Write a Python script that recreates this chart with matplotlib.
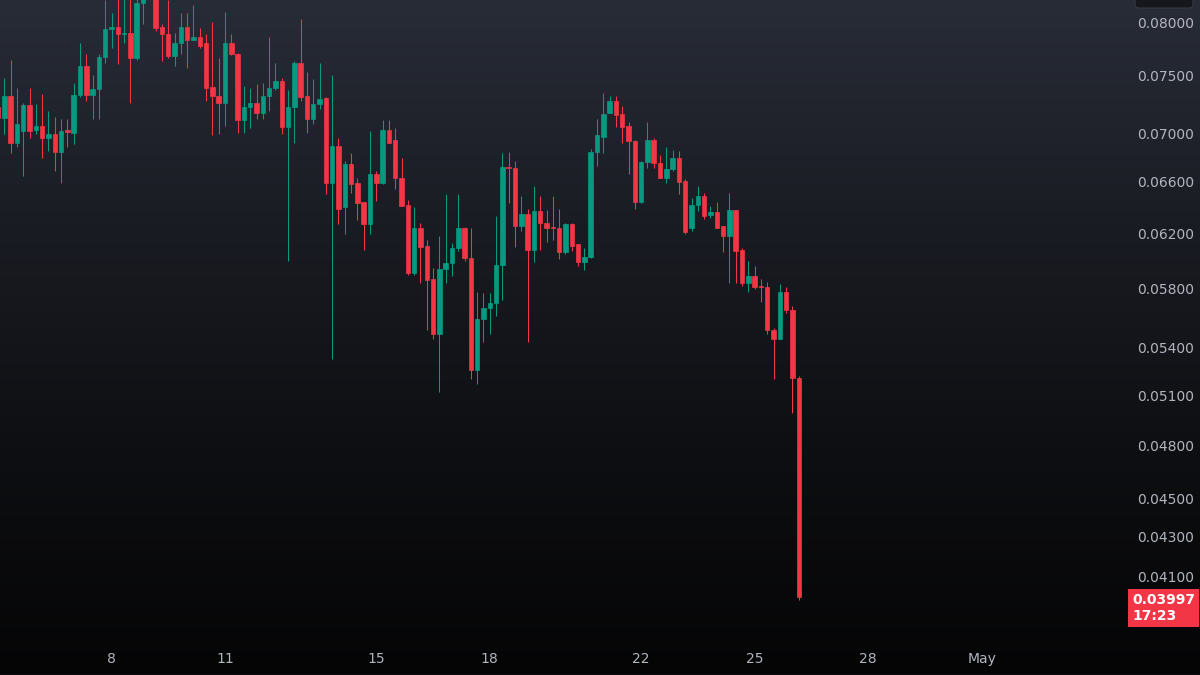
import numpy as np
import pandas as pd
import matplotlib
matplotlib.use("Agg")
import matplotlib.pyplot as plt
import matplotlib.dates as mdates
from matplotlib.colors import LinearSegmentedColormap
from matplotlib.transforms import blended_transform_factory
from matplotlib.patches import FancyBboxPatch

# 4h candles, 5 Apr 00:00 -> 26 Apr 04:00
start = "2024-04-05 00:00"

opens = [0.0722, 0.0713, 0.0732, 0.0692, 0.0702, 0.0724, 0.0703, 0.0706, 0.0696, 0.0699,
         0.0684, 0.0703, 0.0700, 0.0733, 0.0759, 0.0733, 0.0738, 0.0767, 0.0794, 0.0796,
         0.0789, 0.0790, 0.0766, 0.0819, 0.0835, 0.0840, 0.0796, 0.0789, 0.0768, 0.0780,
         0.0796, 0.0783, 0.0786, 0.0780, 0.0740, 0.0732, 0.0726, 0.0780, 0.0770, 0.0711,
         0.0722, 0.0726, 0.0717, 0.0732, 0.0739, 0.0745, 0.0705, 0.0722, 0.0762, 0.0732,
         0.0712, 0.0725, 0.0730, 0.0659, 0.0689, 0.0640, 0.0674, 0.0659, 0.0644, 0.0627,
         0.0666, 0.0659, 0.0703, 0.0694, 0.0663, 0.0642, 0.0591, 0.0624, 0.0611, 0.0587,
         0.0549, 0.0594, 0.0598, 0.0609, 0.0624, 0.0602, 0.0526, 0.0559, 0.0567, 0.0570,
         0.0597, 0.0672, 0.0671, 0.0626, 0.0635, 0.0608, 0.0637, 0.0628, 0.0625, 0.0624,
         0.0606, 0.0627, 0.0612, 0.0599, 0.0603, 0.0684, 0.0697, 0.0717, 0.0728, 0.0716,
         0.0706, 0.0693, 0.0644, 0.0676, 0.0694, 0.0675, 0.0663, 0.0670, 0.0679, 0.0661,
         0.0624, 0.0642, 0.0649, 0.0634, 0.0636, 0.0626, 0.0618, 0.0638, 0.0608, 0.0584,
         0.0589, 0.0582, 0.0581, 0.0552, 0.0546, 0.0578, 0.0565, 0.0521]

highs = [0.0728, 0.0748, 0.0765, 0.0739, 0.0726, 0.0739, 0.0725, 0.0734, 0.0719, 0.0714,
         0.0712, 0.0712, 0.0744, 0.0780, 0.0770, 0.0751, 0.0770, 0.0822, 0.0809, 0.0825,
         0.0830, 0.0826, 0.0835, 0.0842, 0.0848, 0.0845, 0.0799, 0.0822, 0.0790, 0.0809,
         0.0809, 0.0817, 0.0795, 0.0789, 0.0800, 0.0766, 0.0810, 0.0789, 0.0771, 0.0741,
         0.0739, 0.0743, 0.0744, 0.0786, 0.0762, 0.0748, 0.0737, 0.0764, 0.0803, 0.0754,
         0.0747, 0.0762, 0.0731, 0.0751, 0.0696, 0.0677, 0.0683, 0.0663, 0.0644, 0.0702,
         0.0669, 0.0711, 0.0711, 0.0704, 0.0679, 0.0646, 0.0640, 0.0628, 0.0615, 0.0595,
         0.0618, 0.0650, 0.0613, 0.0650, 0.0625, 0.0624, 0.0578, 0.0577, 0.0577, 0.0633,
         0.0683, 0.0684, 0.0677, 0.0649, 0.0639, 0.0657, 0.0649, 0.0638, 0.0649, 0.0639,
         0.0628, 0.0628, 0.0612, 0.0609, 0.0687, 0.0712, 0.0735, 0.0732, 0.0732, 0.0723,
         0.0709, 0.0694, 0.0677, 0.0709, 0.0696, 0.0682, 0.0688, 0.0686, 0.0685, 0.0662,
         0.0647, 0.0657, 0.0651, 0.0641, 0.0644, 0.0626, 0.0651, 0.0638, 0.0609, 0.0600,
         0.0596, 0.0587, 0.0585, 0.0553, 0.0583, 0.0581, 0.0568, 0.0522]

lows = [0.0706, 0.0699, 0.0683, 0.0688, 0.0665, 0.0696, 0.0699, 0.0679, 0.0685, 0.0669,
        0.0659, 0.0688, 0.0691, 0.0731, 0.0728, 0.0712, 0.0712, 0.0762, 0.0776, 0.0761,
        0.0780, 0.0726, 0.0765, 0.0799, 0.0826, 0.0792, 0.0764, 0.0766, 0.0759, 0.0770,
        0.0757, 0.0783, 0.0776, 0.0728, 0.0698, 0.0699, 0.0706, 0.0769, 0.0700, 0.0700,
        0.0704, 0.0712, 0.0712, 0.0719, 0.0737, 0.0699, 0.0600, 0.0692, 0.0728, 0.0700,
        0.0708, 0.0721, 0.0650, 0.0533, 0.0627, 0.0620, 0.0651, 0.0630, 0.0608, 0.0620,
        0.0645, 0.0658, 0.0692, 0.0654, 0.0641, 0.0590, 0.0590, 0.0584, 0.0552, 0.0546,
        0.0512, 0.0584, 0.0589, 0.0607, 0.0600, 0.0520, 0.0517, 0.0544, 0.0549, 0.0561,
        0.0572, 0.0643, 0.0610, 0.0622, 0.0544, 0.0599, 0.0608, 0.0614, 0.0615, 0.0601,
        0.0605, 0.0607, 0.0596, 0.0593, 0.0602, 0.0673, 0.0683, 0.0717, 0.0705, 0.0692,
        0.0666, 0.0639, 0.0643, 0.0671, 0.0671, 0.0663, 0.0659, 0.0669, 0.0650, 0.0620,
        0.0622, 0.0637, 0.0631, 0.0632, 0.0624, 0.0606, 0.0584, 0.0584, 0.0582, 0.0578,
        0.0580, 0.0571, 0.0549, 0.0520, 0.0546, 0.0563, 0.0499, 0.03985]

closes = [0.0713, 0.0732, 0.0692, 0.0708, 0.0724, 0.0702, 0.0706, 0.0696, 0.0699, 0.0684,
          0.0702, 0.0701, 0.0733, 0.0759, 0.0733, 0.0738, 0.0767, 0.0794, 0.0796, 0.0789,
          0.0790, 0.0766, 0.0819, 0.0835, 0.0840, 0.0795, 0.0789, 0.0768, 0.0780, 0.0796,
          0.0783, 0.0786, 0.0778, 0.0739, 0.0732, 0.0726, 0.0780, 0.0770, 0.0711, 0.0722,
          0.0726, 0.0717, 0.0732, 0.0739, 0.0745, 0.0705, 0.0722, 0.0762, 0.0731, 0.0712,
          0.0725, 0.0729, 0.0659, 0.0689, 0.0639, 0.0674, 0.0658, 0.0643, 0.0627, 0.0666,
          0.0659, 0.0703, 0.0692, 0.0663, 0.0641, 0.0591, 0.0624, 0.0610, 0.0586, 0.0549,
          0.0594, 0.0598, 0.0609, 0.0624, 0.0602, 0.0526, 0.0559, 0.0567, 0.0570, 0.0597,
          0.0672, 0.0671, 0.0626, 0.0635, 0.0608, 0.0637, 0.0628, 0.0624, 0.0624, 0.0606,
          0.0627, 0.0611, 0.0599, 0.0603, 0.0684, 0.0698, 0.0716, 0.0728, 0.0715, 0.0705,
          0.0693, 0.0644, 0.0676, 0.0694, 0.0675, 0.0663, 0.0670, 0.0679, 0.0660, 0.0621,
          0.0642, 0.0649, 0.0633, 0.0636, 0.0624, 0.0618, 0.0638, 0.0607, 0.0584, 0.0589,
          0.0581, 0.0581, 0.0552, 0.0546, 0.0578, 0.0565, 0.0521, 0.03997]

price_ticks = [0.080, 0.075, 0.070, 0.066, 0.062, 0.058, 0.054, 0.051, 0.048, 0.045, 0.043, 0.041]
date_ticks = ["2024-04-08", "2024-04-11", "2024-04-15", "2024-04-18", "2024-04-22",
              "2024-04-25", "2024-04-28", "2024-05-01"]
date_labels = ["8", "11", "15", "18", "22", "25", "28", "May"]
countdown = "17:23"

up_col = "#089981"
down_col = "#f23645"
txt_col = "#b2b5be"

o = np.array(opens)
h = np.array(highs)
l = np.array(lows)
c = np.array(closes)
t = mdates.date2num(pd.date_range(start, periods=len(c), freq="4h"))
cols = np.where(c >= o, up_col, down_col)

fig = plt.figure(figsize=(12, 6.75), dpi=100)

# background gradient over the whole canvas
bg = fig.add_axes([0, 0, 1, 1], zorder=0)
grad = np.linspace(0, 1, 256).reshape(-1, 1)
cmap = LinearSegmentedColormap.from_list("bg", ["#282c37", "#1a1c23", "#0e0f12", "#050506"])
bg.imshow(grad, aspect="auto", cmap=cmap, extent=[0, 1, 0, 1])
bg.axis("off")

ax = fig.add_axes([0, 33 / 675, 1125 / 1200, 642 / 675], zorder=1)
ax.set_facecolor("none")
ax.set_yscale("log")

ax.vlines(t, l, h, colors=cols, linewidth=0.75)
ax.bar(t, np.abs(c - o), bottom=np.minimum(o, c), width=0.118, color=cols,
       edgecolor=cols, linewidth=0.5, align="center")

px_day = 37.83
d8 = mdates.date2num(pd.Timestamp("2024-04-08"))
ax.set_xlim(d8 - 111.5 / px_day, d8 + (1125 - 111.5) / px_day)
ax.set_ylim(0.03786, 0.0822)

ax.yaxis.tick_right()
ax.set_yticks(price_ticks)
ax.set_yticklabels(["%.5f" % p for p in price_ticks])
ax.yaxis.set_minor_locator(matplotlib.ticker.NullLocator())
ax.set_xticks(mdates.date2num(pd.to_datetime(date_ticks)))
ax.set_xticklabels(date_labels)
ax.tick_params(axis="y", length=0, pad=9, labelsize=10, labelcolor=txt_col)
ax.tick_params(axis="x", length=0, pad=7, labelsize=10, labelcolor=txt_col)
for s in ax.spines.values():
    s.set_visible(False)

# last price tag
trans = blended_transform_factory(ax.transAxes, ax.transData)
ax.annotate("%.5f\n%s" % (c[-1], countdown), xy=(1, c[-1]), xycoords=trans,
            xytext=(5, 3), textcoords="offset points", ha="left", va="top",
            color="white", fontsize=10, fontweight="bold", linespacing=1.2,
            annotation_clip=False,
            bbox=dict(boxstyle="square,pad=0.3", fc=down_col, ec="none"))

# small button at top right of price scale
fig.patches.append(FancyBboxPatch((1135 / 1200, 667 / 675), 58 / 1200, 20 / 675,
                                  boxstyle="round,pad=0,rounding_size=0.004",
                                  transform=fig.transFigure, fc="#15171d",
                                  ec="#363a45", lw=0.8, zorder=3))

# faint line along the bottom edge
fig.add_artist(plt.Line2D([0, 1], [0.5 / 675, 0.5 / 675], transform=fig.transFigure,
                          color="#2a2d35", lw=1))

plt.savefig("out.png", dpi=100)
